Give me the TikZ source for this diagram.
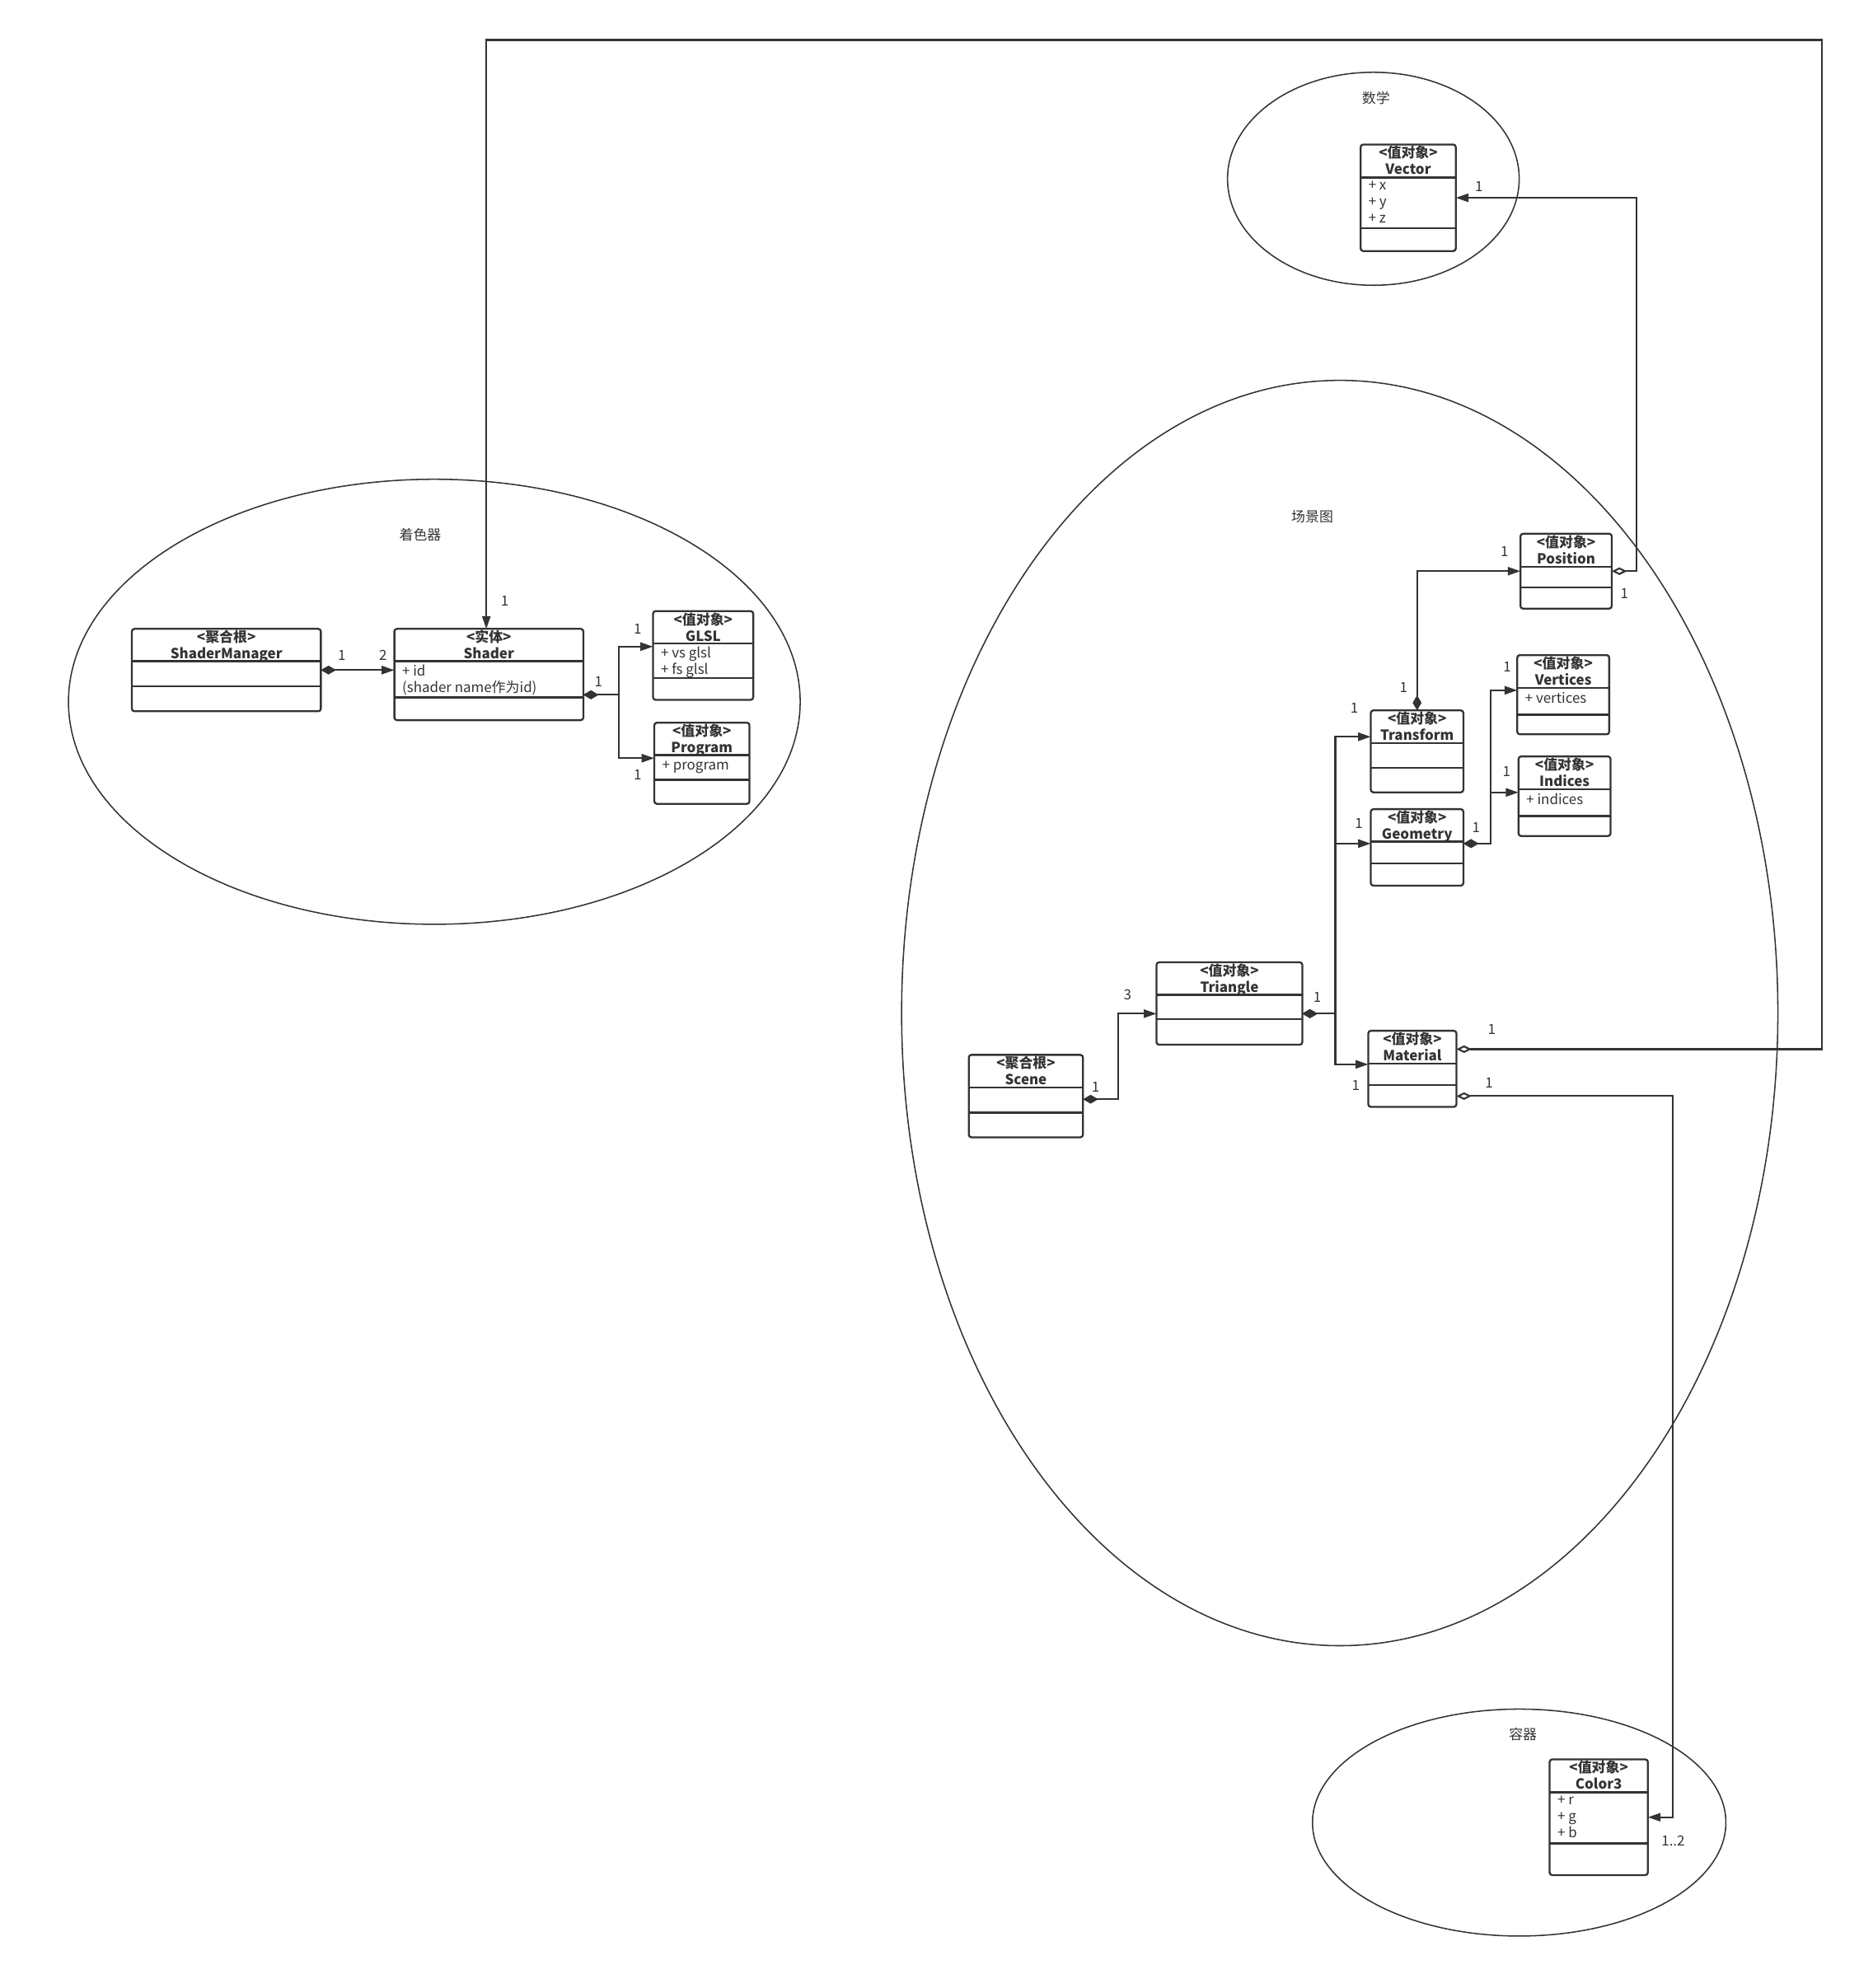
\documentclass[tikz,border=0pt]{standalone}
\usepackage{fontspec}
\setmainfont{Noto Sans CJK SC}
\usetikzlibrary{arrows.meta,shapes.geometric}
\definecolor{ink}{HTML}{333333}

\begin{document}
\begin{tikzpicture}[
  x=1pt, y=-1pt,
  every node/.style={text=ink},
  umlclass/.style 2 args={draw=ink, fill=white, line width=1.5pt, rounded corners=2pt, anchor=north west, inner sep=0pt, outer sep=0pt,
    path picture={
      \draw[ink, line width=1.5pt] ([yshift=-#1]path picture bounding box.north west) -- ([yshift=-#1]path picture bounding box.north east);
      \draw[ink, line width=1.5pt] ([yshift=-#2]path picture bounding box.north west) -- ([yshift=-#2]path picture bounding box.north east);
    }},
  hdr/.style={anchor=north, align=center, font=\bfseries\fontsize{11}{13}\selectfont, inner sep=1pt, execute at begin node=\strut},
  attr/.style={anchor=north west, align=left, font=\fontsize{11}{13}\selectfont, inner xsep=6pt, inner ysep=2.5pt, execute at begin node=\strut},
  pkg/.style={draw=ink, ellipse, line width=1pt, inner sep=0pt},
  pkglabel/.style={font=\fontsize{11}{13}\selectfont},
  mult/.style={font=\fontsize{11}{13}\selectfont, inner sep=1pt},
  conn/.style={draw=ink, line width=1.4pt},
  >={Triangle[length=10pt,width=6.5pt]},
  compo/.tip={Diamond[length=12pt,width=7pt]},
  aggr/.tip={Diamond[open,length=12pt,width=6pt]}
]
\useasboundingbox (0,0) rectangle (1477,1568);

% packages
\node[pkg, minimum width=577pt, minimum height=351pt] (shaderpkg) at (342.5,553.5) {};
\node[pkg, minimum width=691pt, minimum height=998pt] (scenepkg) at (1056.5,799) {};
\node[pkg, minimum width=230pt, minimum height=168pt] (mathpkg) at (1083,141) {};
\node[pkg, minimum width=326pt, minimum height=179pt] (contpkg) at (1198,1437.5) {};
\node[pkglabel] (shaderlbl) at (331.4,421.9) {着色器};
\node[pkglabel] (scenelbl) at (1034.9,407.6) {场景图};
\node[pkglabel] (mathlbl) at (1085.1,77.5) {数学};
\node[pkglabel] (contlbl) at (1201,1367.8) {容器};

% shader classes
\node[umlclass={25.5pt}{45.5pt}, minimum width=149pt, minimum height=65pt] (smgr) at (104,496) {};
\node[hdr] (smgrh) at (smgr.north) {<聚合根>\\ShaderManager};
\node[umlclass={25.5pt}{54pt}, minimum width=149pt, minimum height=72pt] (shader) at (311,496) {};
\node[hdr] (shaderh) at (shader.north) {<实体>\\Shader};
\node[attr] (shadera) at ([yshift=-25.5pt]shader.north west) {+ id\\(shader name作为id)};
\node[umlclass={25.5pt}{53pt}, minimum width=79pt, minimum height=70pt] (glsl) at (515,482) {};
\node[hdr] (glslh) at (glsl.north) {<值对象>\\GLSL};
\node[attr] (glsla) at ([yshift=-25.5pt]glsl.north west) {+ vs glsl\\+ fs glsl};
\node[umlclass={25.5pt}{45pt}, minimum width=75pt, minimum height=64pt] (program) at (516,570) {};
\node[hdr] (programh) at (program.north) {<值对象>\\Program};
\node[attr] (programa) at ([yshift=-25.5pt]program.north west) {+ program};

% scene classes
\node[umlclass={25.6pt}{45.6pt}, minimum width=90pt, minimum height=65pt] (scene) at (764,832) {};
\node[hdr] (sceneh) at (scene.north) {<聚合根>\\Scene};
\node[umlclass={25.6pt}{45pt}, minimum width=115pt, minimum height=65pt] (triangle) at (912,759) {};
\node[hdr] (triangleh) at (triangle.north) {<值对象>\\Triangle};
\node[umlclass={26pt}{45.5pt}, minimum width=73pt, minimum height=64.6pt] (transform) at (1081,560.3) {};
\node[hdr] (transformh) at (transform.north) {<值对象>\\Transform};
\node[umlclass={25.6pt}{43pt}, minimum width=73pt, minimum height=60.3pt] (geometry) at (1081,638.2) {};
\node[hdr] (geometryh) at (geometry.north) {<值对象>\\Geometry};
\node[umlclass={26pt}{43pt}, minimum width=69.5pt, minimum height=60pt] (material) at (1079,813) {};
\node[hdr] (materialh) at (material.north) {<值对象>\\Material};
\node[umlclass={26pt}{42.5pt}, minimum width=72pt, minimum height=59pt] (position) at (1199,421) {};
\node[hdr] (positionh) at (position.north) {<值对象>\\Position};
\node[umlclass={26pt}{47pt}, minimum width=72.5pt, minimum height=62.5pt] (vertices) at (1196.5,516.7) {};
\node[hdr] (verticesh) at (vertices.north) {<值对象>\\Vertices};
\node[attr] (verticesa) at ([yshift=-26pt]vertices.north west) {+ vertices};
\node[umlclass={26pt}{47pt}, minimum width=72.5pt, minimum height=62.8pt] (indices) at (1197.5,596.6) {};
\node[hdr] (indicesh) at (indices.north) {<值对象>\\Indices};
\node[attr] (indicesa) at ([yshift=-26pt]indices.north west) {+ indices};

% math and container classes
\node[umlclass={26pt}{66pt}, minimum width=75pt, minimum height=84pt] (vector) at (1073,114) {};
\node[hdr] (vectorh) at (vector.north) {<值对象>\\Vector};
\node[attr] (vectora) at ([yshift=-26pt]vector.north west) {+ x\\+ y\\+ z};
\node[umlclass={26pt}{66.3pt}, minimum width=77.5pt, minimum height=91.2pt] (color) at (1222,1387.7) {};
\node[hdr] (colorh) at (color.north) {<值对象>\\Color3};
\node[attr] (colora) at ([yshift=-26pt]color.north west) {+ r\\+ g\\+ b};

% connectors
\draw[conn, compo->] (smgr.east) -- (smgr.east -| shader.west);
\draw[conn, compo->] ([yshift=-16pt]shader.east) -- ++(28,0) |- ([yshift=7pt]glsl.west);
\draw[conn, compo->] ([yshift=-16pt]shader.east) -- ++(28,0) |- ([yshift=4pt]program.west);
\draw[conn, compo->] ([yshift=-2.5pt]scene.east) -- ++(28,0) |- ([yshift=-8pt]triangle.west);
\draw[conn, compo->] ([yshift=-8pt]triangle.east) -- ++(26,0) |- ([yshift=11.5pt]transform.west);
\draw[conn, compo->] ([yshift=-8pt]triangle.east) -- ++(26,0) |- ([yshift=3pt]geometry.west);
\draw[conn, compo->] ([yshift=-8pt]triangle.east) -- ++(26,0) |- ([yshift=3.5pt]material.west);
\draw[conn, compo->] (transform.north) |- (position.west);
\draw[conn, aggr->] (position.east) -- ++(19.5,0) |- (vector.east);
\draw[conn, compo->] ([yshift=3pt]geometry.east) -- ++(21.5,0) |- ([yshift=3.5pt]vertices.west);
\draw[conn, compo->] ([yshift=3pt]geometry.east) -- ++(21.5,0) |- ([yshift=3pt]indices.west);
\draw[conn, aggr->] ([yshift=15.5pt]material.east) -- ++(288,0) -- ++(0,-796) -| ([xshift=-2pt]shader.north);
\draw[conn, aggr->] ([yshift=-21.5pt]material.east) -- ++(170.5,0) |- (color.east);

% multiplicities
\node[mult] (m1) at (269.6,517) {1};
\node[mult] (m2) at (302,517) {2};
\node[mult] (m3) at (398,474) {1};
\node[mult] (m4) at (472,537.7) {1};
\node[mult] (m5) at (502.8,496.3) {1};
\node[mult] (m6) at (502.8,611) {1};
\node[mult] (m7) at (864,857.6) {1};
\node[mult] (m8) at (889.2,784.4) {3};
\node[mult] (m9) at (1038.8,786.8) {1};
\node[mult] (m10) at (1068,558.3) {1};
\node[mult] (m11) at (1071.5,649.7) {1};
\node[mult] (m12) at (1069.2,856) {1};
\node[mult] (m13) at (1106.8,542.5) {1};
\node[mult] (m14) at (1186.5,435.3) {1};
\node[mult] (m15) at (1281,468.3) {1};
\node[mult] (m16) at (1166.3,147.3) {1};
\node[mult] (m17) at (1164,652.5) {1};
\node[mult] (m18) at (1188.5,525.8) {1};
\node[mult] (m19) at (1188,608.5) {1};
\node[mult] (m20) at (1176.4,812) {1};
\node[mult] (m21) at (1174.2,854.3) {1};
\node[mult] (m22) at (1319.4,1452) {1..2};

\end{tikzpicture}
\end{document}
